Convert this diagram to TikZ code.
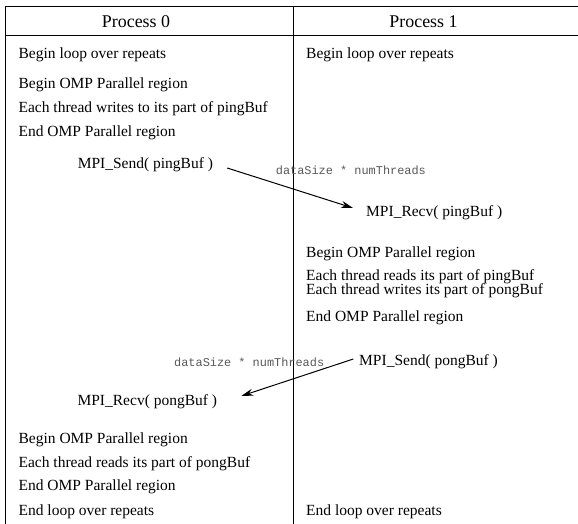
\documentclass[tikz,border=0pt]{standalone}
\usepackage{fontspec}
\setmainfont{Liberation Serif}
\setmonofont{Liberation Mono}
\usepackage{tikz}
\usetikzlibrary{arrows.meta, positioning}
\tikzset{head/.style={font=\fontsize{17.9}{20}\selectfont,inner sep=0pt},
         act/.style={font=\fontsize{15.5}{18}\selectfont,anchor=west,inner sep=0pt},
         mpicall/.style={font=\fontsize{15.5}{18}\selectfont,anchor=west,inner sep=0pt},
         msgsize/.style={font=\ttfamily\fontsize{11.9}{14}\selectfont,text=black!65,anchor=west,inner sep=0pt},
         frame/.style={draw,line width=0.9pt},
         arrow/.style={-{Stealth[length=12pt,width=7pt]},line width=1pt}}

\begin{document}
\begin{tikzpicture}[x=1pt,y=-1pt]
    \useasboundingbox (0,0) rectangle (578,524);
    % table frame
    \draw[frame] (578,6) -- (5.5,6) -- (5.5,524);
    \draw[frame] (5.5,35.7) -- (578,35.7);
    \draw[frame,line width=1.2pt] (293.8,6) -- (293.8,524);
    \node (p0) [head] at (136,21.5) {Process 0};
    \node (p1) [head] at (423.5,21.5) {Process 1};
    % process 0
    \node (l1) [act] at (18.4,54.5) {Begin loop over repeats};
    \node (l2) [act] at (18.4,85) {Begin OMP Parallel region};
    \node (l3) [act] at (18.4,108.3) {Each thread writes to its part of pingBuf};
    \node (l4) [act] at (18.4,133) {End OMP Parallel region};
    \node (send1) [mpicall] at (77.6,165) {MPI\_Send( pingBuf )};
    \node (recv2) [mpicall] at (77.4,402) {MPI\_Recv( pongBuf )};
    \node (l5) [act] at (18.4,440) {Begin OMP Parallel region};
    \node (l6) [act] at (18.4,463.3) {Each thread reads its part of pongBuf};
    \node (l7) [act] at (18.4,486.7) {End OMP Parallel region};
    \node (l8) [act] at (18.4,511.7) {End loop over repeats};
    % process 1
    \node (r1) [act] at (306,54.5) {Begin loop over repeats};
    \node (recv1) [mpicall] at (366,212.5) {MPI\_Recv( pingBuf )};
    \node (r2) [act] at (306,254) {Begin OMP Parallel region};
    \node (r3) [act] at (306,276.5) {Each thread reads its part of pingBuf};
    \node (r4) [act] at (306,290.5) {Each thread writes its part of pongBuf};
    \node (r5) [act] at (306,317.5) {End OMP Parallel region};
    \node (send2) [mpicall] at (359,361.7) {MPI\_Send( pongBuf )};
    \node (r6) [act] at (306,512) {End loop over repeats};
    % messages
    \node (size1) [msgsize] at (275.7,170.7) {dataSize * numThreads};
    \node (size2) [msgsize] at (174,362.3) {dataSize * numThreads};
    \draw[arrow] ([xshift=14pt,yshift=-3pt]send1.east) -- ([xshift=-13pt,yshift=4.5pt]recv1.west);
    \draw[arrow] ([xshift=-5.7pt,yshift=2.7pt]send2.west) -- ([xshift=24pt,yshift=6pt]recv2.east);
\end{tikzpicture}
\end{document}
